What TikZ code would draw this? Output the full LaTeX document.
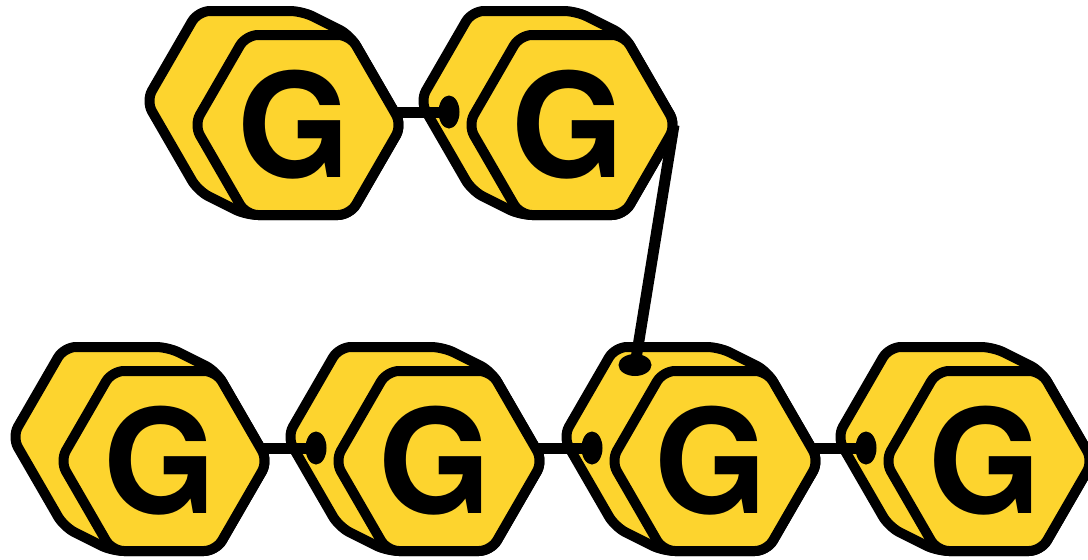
\documentclass[tikz,border=0pt]{standalone}
\usepackage{fontspec}
\setmainfont{TeX Gyre Heros}
\usetikzlibrary{calc}
\definecolor{glcyellow}{RGB}{253,212,46}

\tikzset{
  hexline/.style={draw=black, line width=10pt, line join=round, rounded corners=12pt, fill=glcyellow},
  link/.style={line width=11pt, line cap=butt},
  pics/glcprism/.style={code={
    % back face and side, then front face
    \path[hexline] (-152,-24) -- (-100,-114) -- (4,-114) -- (52,-90) -- (104,0) -- (52,90) -- (-52,90) -- (-100,66) -- cycle;
    \path[hexline] (104,0) -- (52,90) -- (-52,90) -- (-104,0) -- (-52,-90) -- (52,-90) -- cycle;
    \node[font=\fontsize{145}{145}\selectfont\bfseries, inner sep=0pt] (-label) at (-4,0) {G};
    \coordinate (-in) at (-123,-13);
    \coordinate (-out) at (96.5,-13);
    \coordinate (-right) at (102,0);
    \coordinate (-top) at (-80,-96);
  }}
}

\begin{document}
\begin{tikzpicture}[x=1pt, y=-1pt]
  \useasboundingbox (0,0) rectangle (1088,560);
  \pic (t1) at (298,125) {glcprism};
  \pic (t2) at (572,125) {glcprism};
  \foreach \i/\x in {1/164, 2/439, 3/715, 4/989}
    \pic (b\i) at (\x,461) {glcprism};

  \draw[link] (t1-out) -- (t2-in);
  \draw[link] (b1-out) -- (b2-in);
  \draw[link] (b2-out) -- (b3-in);
  \draw[link] (b3-out) -- (b4-in);
  \draw[link] (t2-right) -- (b3-top);

  \foreach \n in {t2, b2, b3, b4}
    \fill (\n-in) ellipse[x radius=10.5pt, y radius=16.5pt];
  \fill (b3-top) ellipse[x radius=16.5pt, y radius=11pt];
\end{tikzpicture}
\end{document}
